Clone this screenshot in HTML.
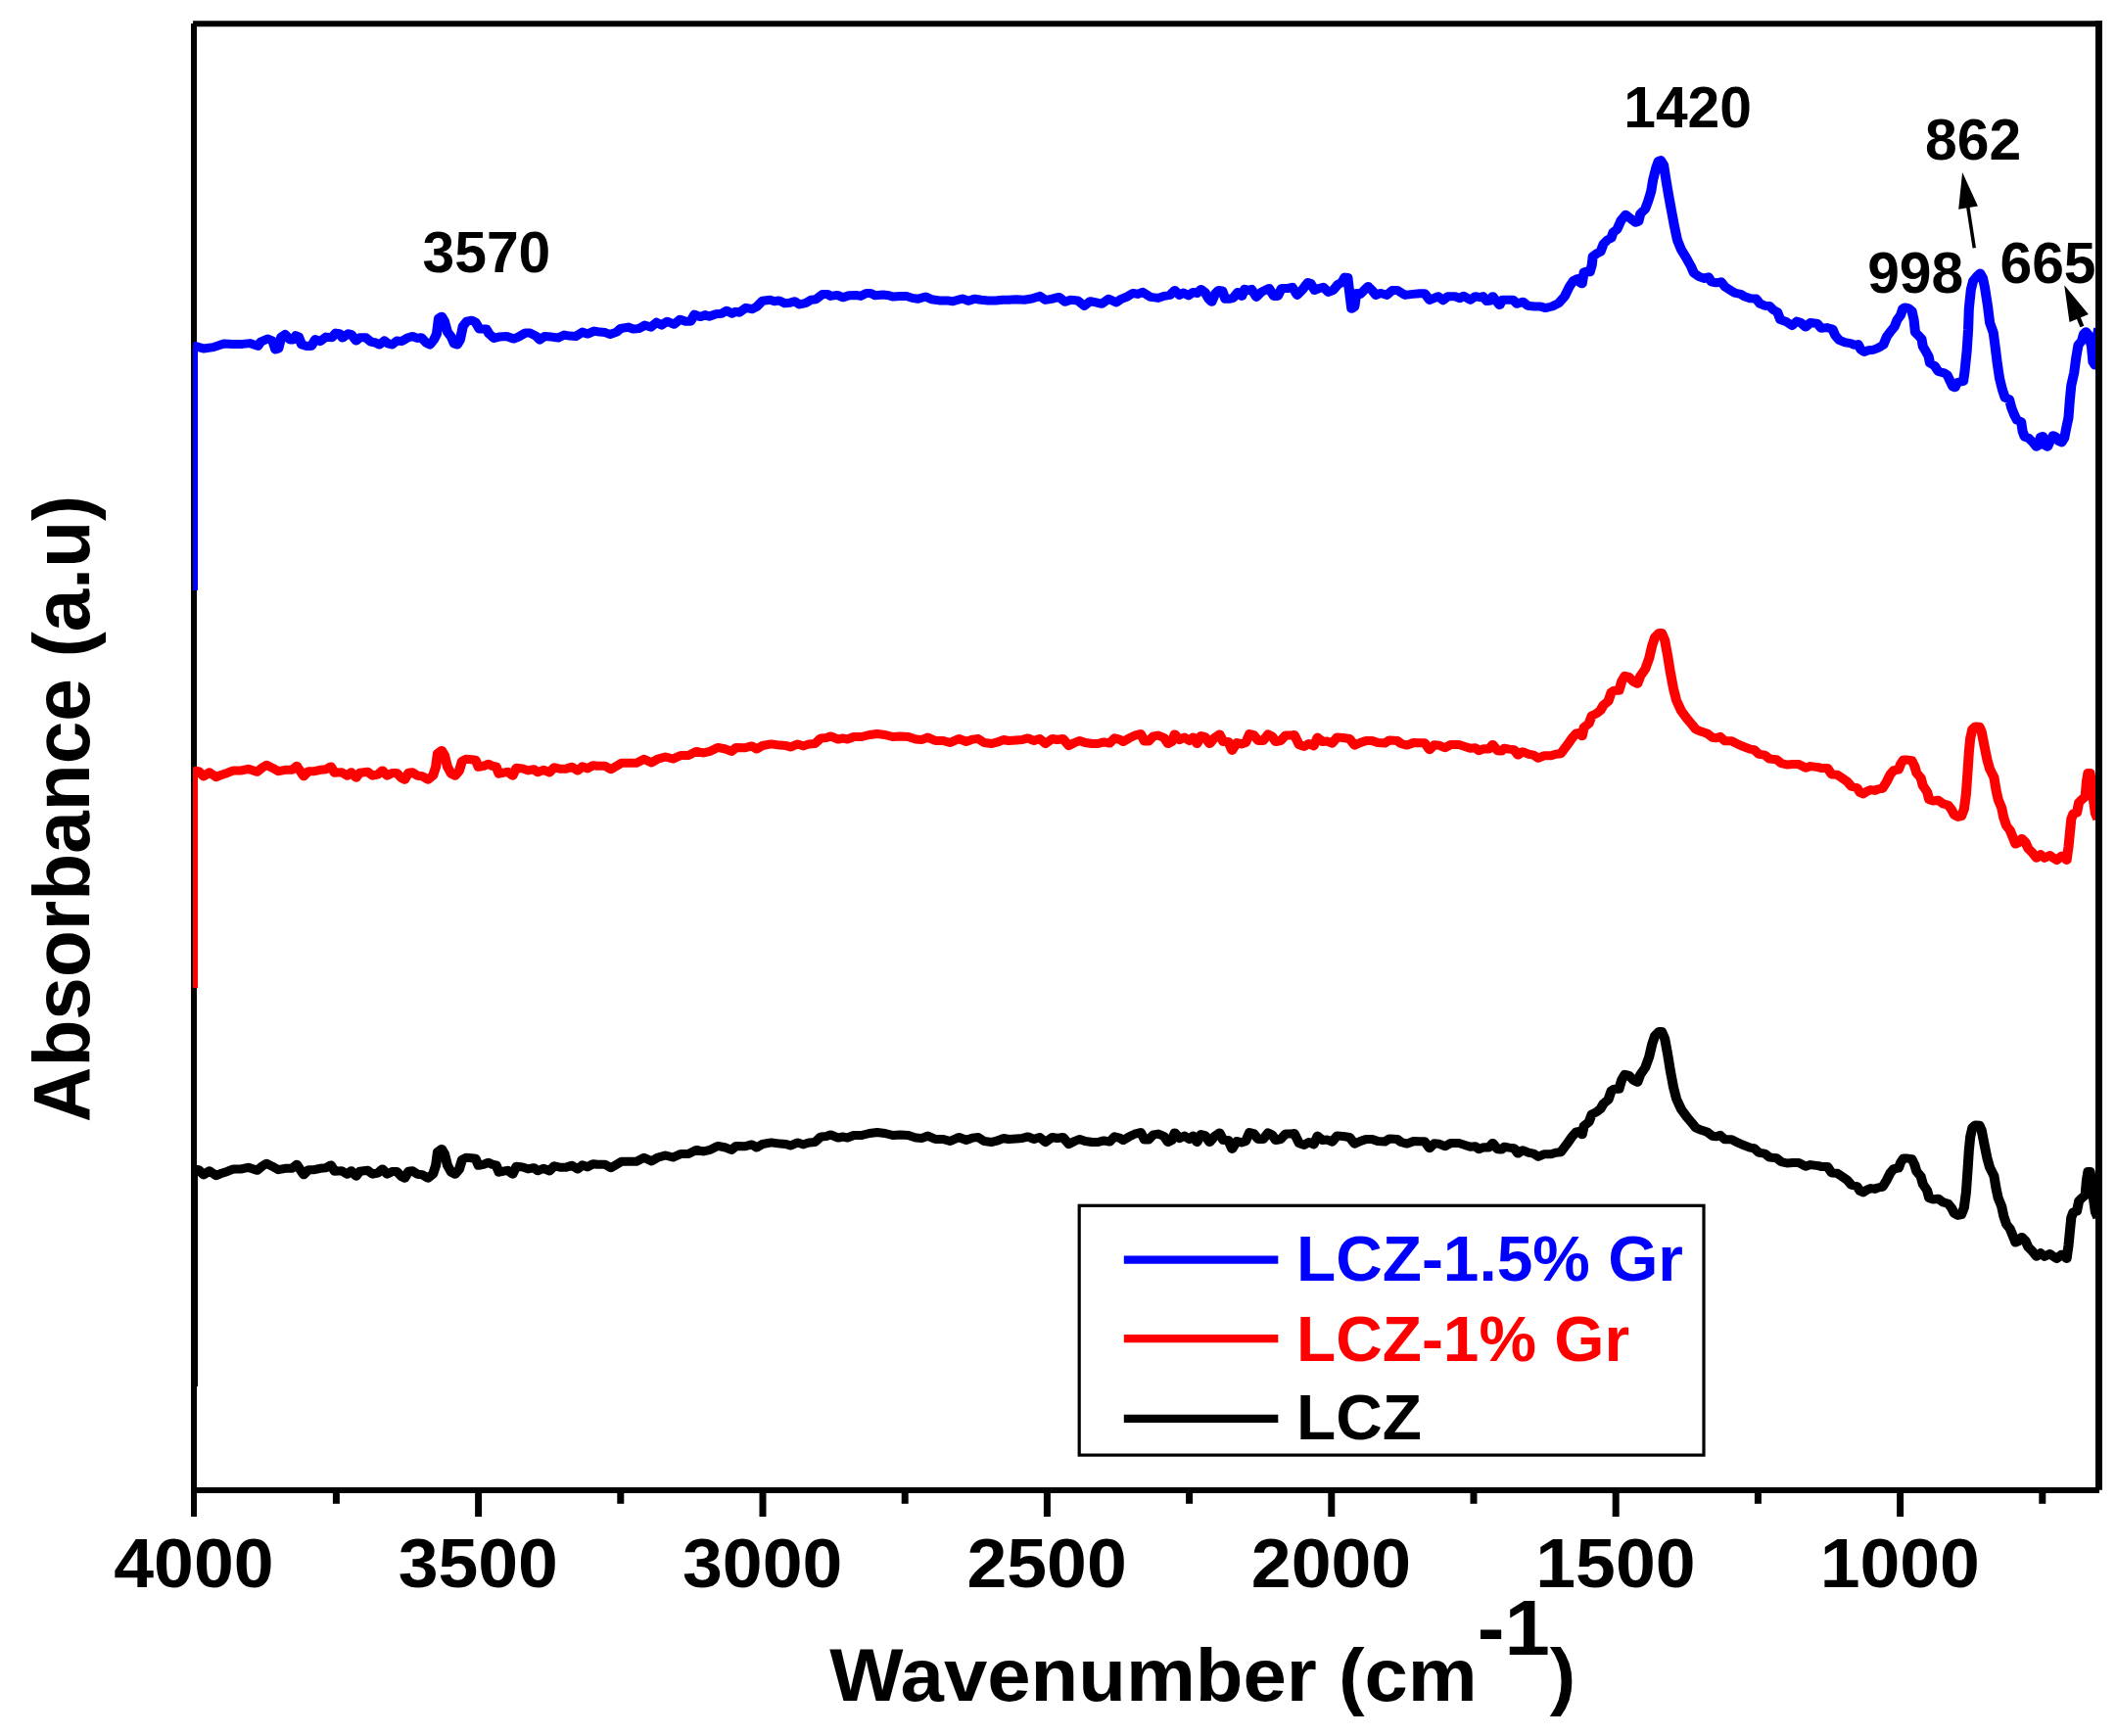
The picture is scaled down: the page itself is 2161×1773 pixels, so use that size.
<!DOCTYPE html>
<html><head><meta charset="utf-8"><title>FTIR</title><style>html,body{margin:0;padding:0;background:#fff}svg{display:block}</style></head><body>
<svg width="2161" height="1773" viewBox="0 0 2161 1773">
<rect width="2161" height="1773" fill="#fff"/>
<defs><clipPath id="cp"><rect x="197" y="20" width="1944" height="1503"/></clipPath></defs>
<g stroke="#000" stroke-width="6" fill="none" stroke-linecap="butt">
<path d="M198.0,23.9 L198.0,1549"/>
<path d="M195.0,1522.0 L2144.0,1522.0"/>
<path stroke-width="7" d="M488.6,1522.0 L488.6,1549"/>
<path stroke-width="7" d="M779.0,1522.0 L779.0,1549"/>
<path stroke-width="7" d="M1069.4,1522.0 L1069.4,1549"/>
<path stroke-width="7" d="M1359.8,1522.0 L1359.8,1549"/>
<path stroke-width="7" d="M1650.2,1522.0 L1650.2,1549"/>
<path stroke-width="7" d="M1940.6,1522.0 L1940.6,1549"/>
<path stroke-width="7" d="M343.4,1522.0 L343.4,1535.8"/>
<path stroke-width="7" d="M633.8,1522.0 L633.8,1535.8"/>
<path stroke-width="7" d="M924.2,1522.0 L924.2,1535.8"/>
<path stroke-width="7" d="M1214.6,1522.0 L1214.6,1535.8"/>
<path stroke-width="7" d="M1505.0,1522.0 L1505.0,1535.8"/>
<path stroke-width="7" d="M1795.4,1522.0 L1795.4,1535.8"/>
<path stroke-width="7" d="M2085.8,1522.0 L2085.8,1535.8"/>
</g>
<g clip-path="url(#cp)" fill="none" stroke-width="9.5" stroke-linejoin="round" stroke-linecap="butt">
<path stroke="#000" stroke-width="8.3" d="M197.9,1416 L197.9,1191.3"/>
<path stroke="#f00" stroke-width="8.3" d="M197.9,1009.0 L197.9,784.3"/>
<path stroke="#00f" stroke-width="8.3" d="M197.9,603.0 L197.9,350.4"/>
<g transform="scale(1.12,1)" stroke-width="9.0">
<path stroke="#000" d="M176.7,1194.3 L177.59,1194.3 L181.16,1194.7 L185.62,1199.8 L190.89,1195.8 L197.14,1200.6 L202.41,1198.2 L207.77,1196.2 L213.04,1193.9 L220.18,1193.9 L226.34,1192.3 L234.29,1195.3 L238.75,1191.3 L243.21,1188.3 L248.48,1191.3 L253.84,1194.7 L260.0,1193.3 L266.25,1193.3 L270.62,1189.3 L274.2,1195.3 L276.88,1199.8 L281.25,1194.7 L286.61,1194.7 L291.96,1193.3 L297.23,1192.7 L301.7,1189.9 L305.18,1196.2 L311.43,1195.8 L316.7,1199.2 L320.27,1195.8 L324.73,1201.2 L328.21,1196.2 L335.36,1195.3 L339.73,1199.2 L344.2,1198.2 L348.66,1193.9 L353.04,1199.2 L357.5,1196.6 L361.96,1196.6 L366.34,1201.8 L369.02,1203.2 L372.59,1196.2 L376.07,1195.8 L380.54,1199.2 L385.0,1199.8 L390.27,1203.2 L394.73,1199.2 L397.41,1190.3 L399.11,1176.4 L402.68,1173.4 L405.36,1178.4 L408.04,1190.3 L411.52,1197.2 L415.09,1199.2 L418.66,1194.3 L421.34,1184.3 L424.82,1182.3 L430.18,1182.7 L433.66,1183.3 L436.34,1190.3 L440.8,1189.3 L445.18,1187.3 L448.75,1189.3 L452.32,1189.9 L455.0,1197.2 L459.37,1196.2 L462.95,1195.3 L467.41,1199.2 L470.89,1191.3 L476.25,1191.9 L481.52,1193.9 L486.87,1192.7 L490.45,1195.8 L495.71,1193.3 L501.07,1195.8 L505.45,1190.7 L510.8,1192.3 L516.07,1192.3 L521.43,1190.3 L526.79,1193.9 L531.16,1189.9 L535.62,1191.9 L540.89,1188.7 L544.64,1189.3 L551.7,1189.3 L557.05,1192.7 L562.32,1189.3 L566.79,1186.3 L573.93,1186.3 L580.09,1186.3 L587.14,1182.3 L594.29,1185.9 L599.55,1182.3 L606.7,1180.0 L613.75,1182.0 L620.8,1178.4 L627.95,1178.4 L635.0,1174.4 L641.25,1176.0 L647.41,1174.4 L654.55,1170.4 L661.61,1172.0 L666.96,1174.4 L671.34,1170.4 L679.37,1170.8 L685.54,1168.9 L690.0,1172.0 L695.27,1168.5 L703.21,1166.9 L711.25,1168.1 L716.52,1168.5 L720.98,1170.0 L727.14,1166.9 L732.5,1168.9 L737.86,1166.9 L743.12,1166.5 L748.48,1160.9 L753.75,1160.5 L757.32,1158.9 L764.38,1162.1 L768.84,1160.9 L772.41,1162.1 L778.57,1159.5 L785.62,1159.5 L792.77,1157.5 L799.82,1156.5 L806.96,1157.5 L814.02,1159.5 L821.07,1158.9 L828.21,1159.5 L835.27,1162.1 L840.62,1162.5 L845.89,1160.1 L853.04,1163.5 L860.09,1163.5 L866.34,1165.5 L874.29,1161.5 L881.34,1164.5 L886.7,1162.1 L891.96,1161.5 L897.32,1165.5 L904.37,1166.5 L909.73,1164.9 L915.0,1162.5 L919.64,1163.5 L926.7,1162.9 L932.05,1162.5 L937.32,1160.9 L942.68,1163.5 L948.04,1161.5 L953.3,1166.5 L959.55,1161.5 L963.93,1162.5 L969.29,1161.5 L974.55,1168.5 L979.91,1165.5 L984.29,1163.5 L989.64,1165.5 L995.8,1166.5 L1001.16,1166.5 L1006.52,1164.9 L1011.79,1166.1 L1016.25,1160.9 L1020.62,1162.1 L1024.2,1164.5 L1029.55,1160.9 L1034.82,1158.1 L1040.18,1156.5 L1043.66,1164.1 L1047.23,1164.1 L1051.7,1158.9 L1056.07,1158.1 L1061.43,1160.5 L1065.0,1166.5 L1068.48,1164.5 L1071.16,1156.9 L1075.62,1162.5 L1080.0,1160.1 L1084.46,1163.5 L1088.04,1160.1 L1091.52,1166.5 L1095.09,1158.5 L1098.66,1159.5 L1103.04,1166.5 L1107.5,1160.5 L1111.96,1156.9 L1115.45,1164.5 L1119.91,1164.5 L1123.48,1173.4 L1127.86,1165.5 L1132.32,1166.9 L1135.89,1165.5 L1139.37,1156.5 L1142.95,1157.5 L1147.41,1163.5 L1151.79,1163.5 L1156.25,1156.9 L1159.82,1158.9 L1163.3,1164.5 L1167.77,1163.5 L1172.14,1158.1 L1176.61,1158.1 L1180.18,1157.5 L1184.55,1167.5 L1189.02,1169.4 L1193.48,1166.5 L1197.86,1168.9 L1201.43,1160.1 L1205.89,1164.5 L1210.27,1164.1 L1214.73,1166.1 L1219.11,1160.1 L1224.46,1160.5 L1230.62,1161.5 L1235.09,1168.1 L1240.45,1165.5 L1245.71,1163.5 L1251.07,1163.5 L1256.34,1165.5 L1262.59,1166.1 L1266.96,1162.9 L1274.11,1163.5 L1277.59,1166.5 L1282.95,1168.1 L1289.11,1165.5 L1294.64,1165.8 L1299.11,1165.8 L1303.48,1172.7 L1307.95,1167.8 L1312.32,1168.2 L1317.68,1170.8 L1323.04,1167.4 L1330.09,1167.4 L1335.45,1169.4 L1340.71,1171.3 L1345.18,1170.8 L1348.66,1173.7 L1353.12,1171.7 L1357.59,1172.1 L1361.07,1167.4 L1365.54,1173.7 L1369.11,1174.1 L1371.7,1171.3 L1376.16,1172.1 L1380.62,1172.7 L1384.11,1178.1 L1388.57,1174.7 L1393.93,1177.3 L1398.3,1178.1 L1402.77,1181.3 L1408.04,1178.7 L1414.29,1178.7 L1418.66,1177.3 L1423.12,1176.7 L1428.48,1168.8 L1432.86,1161.8 L1437.32,1155.9 L1440.0,1155.5 L1442.59,1158.8 L1444.38,1149.9 L1448.84,1145.9 L1451.52,1138.0 L1455.89,1135.6 L1459.46,1132.4 L1462.14,1127.1 L1466.52,1123.1 L1469.2,1114.2 L1471.87,1112.2 L1476.25,1112.2 L1478.93,1102.3 L1481.61,1097.3 L1485.18,1098.3 L1489.55,1103.3 L1493.12,1105.3 L1495.8,1097.3 L1500.18,1090.4 L1503.75,1079.4 L1506.43,1066.5 L1509.11,1057.6 L1512.59,1053.6 L1515.27,1053.6 L1517.95,1060.6 L1520.62,1076.5 L1523.21,1094.3 L1525.89,1110.2 L1528.57,1122.1 L1533.04,1133.0 L1538.3,1141.0 L1542.77,1146.9 L1546.34,1151.9 L1551.61,1154.3 L1556.96,1156.3 L1561.34,1160.2 L1564.91,1160.8 L1568.48,1159.4 L1572.86,1163.8 L1579.11,1163.8 L1585.27,1167.4 L1590.62,1169.8 L1595.89,1172.1 L1599.46,1172.7 L1603.93,1177.3 L1609.2,1178.1 L1613.66,1182.1 L1619.82,1182.7 L1624.29,1186.6 L1629.55,1188.0 L1634.91,1187.6 L1640.27,1187.6 L1646.43,1191.2 L1650.89,1189.6 L1657.95,1190.6 L1660.71,1191.6 L1666.43,1191.6 L1670.27,1198.0 L1675.36,1198.3 L1679.73,1201.6 L1684.2,1205.1 L1688.04,1210.1 L1693.12,1211.5 L1696.25,1216.5 L1698.84,1217.9 L1702.59,1215.1 L1705.8,1213.6 L1709.64,1214.4 L1712.77,1212.9 L1716.61,1212.2 L1720.45,1205.1 L1723.57,1198.0 L1726.79,1193.7 L1731.16,1193.0 L1733.12,1187.3 L1735.62,1183.1 L1739.46,1183.1 L1743.3,1183.8 L1745.8,1189.5 L1747.68,1196.6 L1751.52,1201.6 L1753.39,1209.4 L1757.23,1215.8 L1759.11,1223.6 L1762.32,1225.0 L1767.41,1224.3 L1771.87,1227.9 L1776.25,1229.3 L1779.46,1233.6 L1781.96,1239.2 L1785.18,1241.4 L1788.39,1240.7 L1790.89,1233.6 L1792.77,1217.9 L1794.11,1196.6 L1795.36,1175.2 L1796.61,1161.0 L1798.48,1151.8 L1801.07,1148.9 L1804.91,1149.3 L1806.79,1153.9 L1809.29,1168.1 L1811.87,1182.3 L1814.37,1192.3 L1818.21,1200.8 L1820.09,1213.6 L1822.05,1223.6 L1825.18,1232.1 L1827.05,1242.1 L1829.64,1250.6 L1832.77,1254.9 L1835.36,1262.0 L1837.86,1269.1 L1840.45,1267.7 L1843.57,1263.4 L1846.79,1267.0 L1849.29,1273.4 L1853.12,1277.7 L1856.96,1283.3 L1860.71,1279.8 L1864.55,1283.3 L1869.02,1280.5 L1871.52,1282.6 L1875.36,1285.5 L1879.82,1281.2 L1882.32,1281.9 L1884.46,1285.5 L1886.16,1272.0 L1887.41,1257.7 L1888.66,1243.5 L1890.62,1237.8 L1893.75,1237.1 L1895.71,1226.4 L1898.84,1222.9 L1901.43,1220.8 L1902.68,1205.1 L1903.93,1196.6 L1905.8,1196.6 L1907.77,1210.8 L1909.02,1225.0 L1910.62,1237.8 L1912.86,1243.5"/>
<path stroke="#f00" d="M176.7,787.3 L177.59,787.3 L181.16,787.7 L185.62,792.8 L190.89,788.8 L197.14,793.6 L202.41,791.2 L207.77,789.2 L213.04,786.9 L220.18,786.9 L226.34,785.3 L234.29,788.3 L238.75,784.3 L243.21,781.3 L248.48,784.3 L253.84,787.7 L260.0,786.3 L266.25,786.3 L270.62,782.3 L274.2,788.3 L276.88,792.8 L281.25,787.7 L286.61,787.7 L291.96,786.3 L297.23,785.7 L301.7,782.9 L305.18,789.2 L311.43,788.8 L316.7,792.2 L320.27,788.8 L324.73,794.2 L328.21,789.2 L335.36,788.3 L339.73,792.2 L344.2,791.2 L348.66,786.9 L353.04,792.2 L357.5,789.6 L361.96,789.6 L366.34,794.8 L369.02,796.2 L372.59,789.2 L376.07,788.8 L380.54,792.2 L385.0,792.8 L390.27,796.2 L394.73,792.2 L397.41,783.3 L399.11,769.4 L402.68,766.4 L405.36,771.4 L408.04,783.3 L411.52,790.2 L415.09,792.2 L418.66,787.3 L421.34,777.3 L424.82,775.3 L430.18,775.7 L433.66,776.3 L436.34,783.3 L440.8,782.3 L445.18,780.3 L448.75,782.3 L452.32,782.9 L455.0,790.2 L459.37,789.2 L462.95,788.3 L467.41,792.2 L470.89,784.3 L476.25,784.9 L481.52,786.9 L486.87,785.7 L490.45,788.8 L495.71,786.3 L501.07,788.8 L505.45,783.7 L510.8,785.3 L516.07,785.3 L521.43,783.3 L526.79,786.9 L531.16,782.9 L535.62,784.9 L540.89,781.7 L544.64,782.3 L551.7,782.3 L557.05,785.7 L562.32,782.3 L566.79,779.3 L573.93,779.3 L580.09,779.3 L587.14,775.3 L594.29,778.9 L599.55,775.3 L606.7,773.0 L613.75,775.0 L620.8,771.4 L627.95,771.4 L635.0,767.4 L641.25,769.0 L647.41,767.4 L654.55,763.4 L661.61,765.0 L666.96,767.4 L671.34,763.4 L679.37,763.8 L685.54,761.9 L690.0,765.0 L695.27,761.5 L703.21,759.9 L711.25,761.1 L716.52,761.5 L720.98,763.0 L727.14,759.9 L732.5,761.9 L737.86,759.9 L743.12,759.5 L748.48,753.9 L753.75,753.5 L757.32,751.9 L764.38,755.1 L768.84,753.9 L772.41,755.1 L778.57,752.5 L785.62,752.5 L792.77,750.5 L799.82,749.5 L806.96,750.5 L814.02,752.5 L821.07,751.9 L828.21,752.5 L835.27,755.1 L840.62,755.5 L845.89,753.1 L853.04,756.5 L860.09,756.5 L866.34,758.5 L874.29,754.5 L881.34,757.5 L886.7,755.1 L891.96,754.5 L897.32,758.5 L904.37,759.5 L909.73,757.9 L915.0,755.5 L919.64,756.5 L926.7,755.9 L932.05,755.5 L937.32,753.9 L942.68,756.5 L948.04,754.5 L953.3,759.5 L959.55,754.5 L963.93,755.5 L969.29,754.5 L974.55,761.5 L979.91,758.5 L984.29,756.5 L989.64,758.5 L995.8,759.5 L1001.16,759.5 L1006.52,757.9 L1011.79,759.1 L1016.25,753.9 L1020.62,755.1 L1024.2,757.5 L1029.55,753.9 L1034.82,751.1 L1040.18,749.5 L1043.66,757.1 L1047.23,757.1 L1051.7,751.9 L1056.07,751.1 L1061.43,753.5 L1065.0,759.5 L1068.48,757.5 L1071.16,749.9 L1075.62,755.5 L1080.0,753.1 L1084.46,756.5 L1088.04,753.1 L1091.52,759.5 L1095.09,751.5 L1098.66,752.5 L1103.04,759.5 L1107.5,753.5 L1111.96,749.9 L1115.45,757.5 L1119.91,757.5 L1123.48,766.4 L1127.86,758.5 L1132.32,759.9 L1135.89,758.5 L1139.37,749.5 L1142.95,750.5 L1147.41,756.5 L1151.79,756.5 L1156.25,749.9 L1159.82,751.9 L1163.3,757.5 L1167.77,756.5 L1172.14,751.1 L1176.61,751.1 L1180.18,750.5 L1184.55,760.5 L1189.02,762.4 L1193.48,759.5 L1197.86,761.9 L1201.43,753.1 L1205.89,757.5 L1210.27,757.1 L1214.73,759.1 L1219.11,753.1 L1224.46,753.5 L1230.62,754.5 L1235.09,761.1 L1240.45,758.5 L1245.71,756.5 L1251.07,756.5 L1256.34,758.5 L1262.59,759.1 L1266.96,755.9 L1274.11,756.5 L1277.59,759.5 L1282.95,761.1 L1289.11,758.5 L1294.64,758.8 L1299.11,758.8 L1303.48,765.7 L1307.95,760.8 L1312.32,761.2 L1317.68,763.8 L1323.04,760.4 L1330.09,760.4 L1335.45,762.4 L1340.71,764.3 L1345.18,763.8 L1348.66,766.7 L1353.12,764.7 L1357.59,765.1 L1361.07,760.4 L1365.54,766.7 L1369.11,767.1 L1371.7,764.3 L1376.16,765.1 L1380.62,765.7 L1384.11,771.1 L1388.57,767.7 L1393.93,770.3 L1398.3,771.1 L1402.77,774.3 L1408.04,771.7 L1414.29,771.7 L1418.66,770.3 L1423.12,769.7 L1428.48,761.8 L1432.86,754.8 L1437.32,748.9 L1440.0,748.5 L1442.59,751.8 L1444.38,742.9 L1448.84,738.9 L1451.52,731.0 L1455.89,728.6 L1459.46,725.4 L1462.14,720.1 L1466.52,716.1 L1469.2,707.2 L1471.87,705.2 L1476.25,705.2 L1478.93,695.3 L1481.61,690.3 L1485.18,691.3 L1489.55,696.3 L1493.12,698.3 L1495.8,690.3 L1500.18,683.4 L1503.75,672.4 L1506.43,659.5 L1509.11,650.6 L1512.59,646.6 L1515.27,646.6 L1517.95,653.6 L1520.62,669.5 L1523.21,687.3 L1525.89,703.2 L1528.57,715.1 L1533.04,726.0 L1538.3,734.0 L1542.77,739.9 L1546.34,744.9 L1551.61,747.3 L1556.96,749.3 L1561.34,753.2 L1564.91,753.8 L1568.48,752.4 L1572.86,756.8 L1579.11,756.8 L1585.27,760.4 L1590.62,762.8 L1595.89,765.1 L1599.46,765.7 L1603.93,770.3 L1609.2,771.1 L1613.66,775.1 L1619.82,775.7 L1624.29,779.6 L1629.55,781.0 L1634.91,780.6 L1640.27,780.6 L1646.43,784.2 L1650.89,782.6 L1657.95,783.6 L1660.71,784.6 L1666.43,784.6 L1670.27,791.0 L1675.36,791.3 L1679.73,794.6 L1684.2,798.1 L1688.04,803.1 L1693.12,804.5 L1696.25,809.5 L1698.84,810.9 L1702.59,808.1 L1705.8,806.6 L1709.64,807.4 L1712.77,805.9 L1716.61,805.2 L1720.45,798.1 L1723.57,791.0 L1726.79,786.7 L1731.16,786.0 L1733.12,780.3 L1735.62,776.1 L1739.46,776.1 L1743.3,776.8 L1745.8,782.5 L1747.68,789.6 L1751.52,794.6 L1753.39,802.4 L1757.23,808.8 L1759.11,816.6 L1762.32,818.0 L1767.41,817.3 L1771.87,820.9 L1776.25,822.3 L1779.46,826.6 L1781.96,832.2 L1785.18,834.4 L1788.39,833.7 L1790.89,826.6 L1792.77,810.9 L1794.11,789.6 L1795.36,768.2 L1796.61,754.0 L1798.48,744.8 L1801.07,741.9 L1804.91,742.3 L1806.79,746.9 L1809.29,761.1 L1811.87,775.3 L1814.37,785.3 L1818.21,793.8 L1820.09,806.6 L1822.05,816.6 L1825.18,825.1 L1827.05,835.1 L1829.64,843.6 L1832.77,847.9 L1835.36,855.0 L1837.86,862.1 L1840.45,860.7 L1843.57,856.4 L1846.79,860.0 L1849.29,866.4 L1853.12,870.7 L1856.96,876.3 L1860.71,872.8 L1864.55,876.3 L1869.02,873.5 L1871.52,875.6 L1875.36,878.5 L1879.82,874.2 L1882.32,874.9 L1884.46,878.5 L1886.16,865.0 L1887.41,850.7 L1888.66,836.5 L1890.62,830.8 L1893.75,830.1 L1895.71,819.4 L1898.84,815.9 L1901.43,813.8 L1902.68,798.1 L1903.93,789.6 L1905.8,789.6 L1907.77,803.8 L1909.02,818.0 L1910.62,830.8 L1912.86,836.5"/>
<path stroke="#00f" d="M176.7,353.4 L177.59,353.4 L185.62,356.0 L194.46,354.6 L204.2,351.0 L212.14,351.6 L221.07,351.4 L228.12,350.6 L235.18,353.4 L237.86,349.0 L244.11,346.0 L248.48,348.0 L251.16,357.0 L253.84,356.0 L256.52,344.1 L260.0,341.5 L264.46,347.0 L267.14,347.0 L269.73,342.7 L272.41,344.1 L275.09,352.0 L279.55,353.4 L283.93,353.4 L287.5,346.6 L291.96,348.6 L297.23,344.1 L302.59,344.7 L306.07,340.1 L309.64,340.7 L312.32,345.0 L317.59,340.7 L320.27,341.5 L324.73,348.0 L328.21,344.7 L333.57,344.7 L338.04,349.0 L342.41,350.0 L345.98,352.0 L350.45,348.0 L353.93,351.0 L357.5,352.0 L361.96,348.0 L366.34,348.6 L371.7,345.0 L376.07,343.5 L380.54,345.4 L384.11,344.7 L388.48,350.0 L392.05,352.0 L395.62,347.0 L398.21,341.1 L400.0,325.2 L402.68,323.2 L405.36,328.2 L408.04,339.1 L411.52,344.1 L414.2,351.0 L416.87,352.0 L419.55,347.0 L422.14,333.1 L425.71,328.2 L430.18,327.2 L433.66,329.2 L437.23,336.1 L443.48,336.1 L446.07,341.1 L450.54,345.4 L455.0,344.1 L462.05,343.5 L468.3,346.0 L472.68,344.1 L478.93,340.1 L483.3,340.1 L488.66,343.1 L492.14,347.0 L496.61,343.5 L502.86,344.1 L509.02,345.0 L514.38,342.1 L519.64,343.1 L525.0,343.5 L531.16,339.1 L535.62,341.1 L541.79,338.1 L544.64,338.7 L551.7,339.5 L556.16,341.5 L562.32,339.1 L565.89,335.5 L573.04,334.1 L577.41,336.1 L582.77,335.5 L588.04,332.1 L593.39,334.1 L598.66,329.2 L603.12,332.1 L608.48,328.2 L614.64,331.2 L620.0,326.2 L625.27,328.2 L629.73,328.2 L633.21,321.2 L638.57,323.6 L643.04,321.6 L646.52,323.2 L652.77,320.8 L658.04,320.2 L662.5,317.3 L667.77,320.2 L670.45,318.3 L674.02,319.2 L680.18,314.3 L685.54,315.7 L690.0,313.3 L695.27,307.3 L702.41,306.3 L705.89,307.7 L710.36,306.9 L715.62,309.7 L720.09,309.3 L724.55,307.7 L728.93,310.9 L734.29,309.7 L739.55,306.3 L744.02,305.7 L750.18,300.4 L754.64,300.4 L757.32,302.4 L763.48,301.4 L768.84,303.8 L774.11,301.8 L780.36,301.4 L784.82,302.4 L790.09,299.4 L793.66,299.4 L798.04,301.8 L805.18,301.0 L810.45,301.8 L814.02,303.0 L821.07,302.4 L826.43,302.4 L831.79,304.4 L837.05,305.3 L844.11,303.0 L849.46,305.7 L856.52,306.9 L863.66,306.9 L868.93,307.7 L873.39,306.3 L877.86,305.0 L883.12,307.3 L888.48,305.3 L894.64,306.3 L900.89,306.9 L907.95,306.9 L914.11,306.3 L919.64,306.3 L926.7,305.7 L933.84,306.3 L940.89,305.0 L948.04,302.4 L953.3,306.3 L958.66,305.3 L965.71,303.4 L971.07,308.3 L976.34,306.3 L982.59,306.9 L988.75,312.3 L994.11,307.7 L999.37,308.9 L1004.73,310.3 L1010.89,305.3 L1018.04,308.9 L1022.41,305.3 L1027.77,303.0 L1033.04,299.4 L1037.5,300.4 L1041.96,298.4 L1049.02,303.4 L1056.07,304.4 L1061.43,302.4 L1066.7,301.4 L1071.16,296.4 L1075.62,301.4 L1079.11,299.0 L1083.57,301.8 L1088.04,298.4 L1091.52,299.4 L1095.09,295.4 L1098.66,298.4 L1102.14,305.3 L1104.82,308.3 L1108.39,299.4 L1111.07,296.4 L1114.55,297.0 L1117.23,305.3 L1120.8,305.3 L1124.37,304.4 L1128.75,298.4 L1132.32,302.4 L1135.0,295.4 L1138.48,296.4 L1141.16,295.4 L1145.62,303.4 L1150.0,298.4 L1153.57,296.4 L1157.14,294.4 L1161.52,302.4 L1165.09,302.4 L1168.66,294.4 L1174.82,294.4 L1178.39,293.4 L1182.86,301.4 L1187.23,296.4 L1192.59,288.5 L1195.18,289.5 L1198.75,296.4 L1203.21,294.4 L1206.79,293.4 L1211.16,298.4 L1215.62,296.4 L1220.0,290.5 L1223.57,288.5 L1226.25,283.1 L1228.93,283.5 L1230.62,299.4 L1232.41,315.3 L1235.09,313.3 L1236.87,299.4 L1240.45,300.4 L1243.93,296.4 L1247.5,292.4 L1251.07,296.4 L1254.55,301.4 L1259.02,299.4 L1264.37,301.4 L1269.64,296.4 L1274.11,296.4 L1281.16,301.4 L1288.3,300.4 L1294.64,299.7 L1299.11,299.7 L1303.48,306.3 L1307.95,304.3 L1311.52,302.7 L1315.89,306.7 L1320.36,302.7 L1326.52,302.7 L1330.98,304.7 L1334.55,302.3 L1340.71,306.3 L1345.18,302.7 L1349.55,303.7 L1352.23,302.7 L1355.8,307.6 L1359.29,307.1 L1361.07,302.7 L1364.64,307.6 L1367.32,311.6 L1370.0,306.3 L1374.37,306.3 L1379.73,306.3 L1383.21,310.2 L1388.57,308.2 L1393.04,312.2 L1399.2,313.0 L1404.55,313.0 L1408.93,314.6 L1415.18,313.0 L1421.34,309.6 L1426.7,302.7 L1431.07,292.8 L1434.64,286.8 L1438.21,284.8 L1440.89,288.8 L1442.59,289.8 L1444.38,277.9 L1447.05,276.9 L1449.73,277.9 L1451.52,270.9 L1452.41,262.0 L1455.89,259.0 L1459.46,257.0 L1462.14,249.1 L1465.62,245.1 L1469.2,243.1 L1470.98,237.2 L1474.55,234.2 L1478.04,225.3 L1482.5,219.3 L1486.96,223.3 L1491.34,227.3 L1494.02,226.3 L1495.8,218.3 L1500.18,213.4 L1502.86,205.4 L1505.54,195.5 L1507.32,183.6 L1510.0,171.7 L1512.23,164.7 L1514.37,163.7 L1517.05,168.7 L1518.84,181.6 L1521.52,199.5 L1524.11,215.3 L1526.79,231.2 L1529.46,245.1 L1533.04,255.0 L1537.41,263.0 L1541.88,271.9 L1544.55,278.9 L1549.82,282.8 L1554.29,284.4 L1557.86,282.8 L1560.45,287.8 L1564.91,288.8 L1569.38,287.8 L1572.86,292.8 L1578.21,296.7 L1581.79,299.1 L1587.05,300.3 L1590.62,302.7 L1595.89,304.7 L1601.25,305.1 L1604.82,310.2 L1609.2,312.2 L1613.66,312.6 L1617.14,316.6 L1620.71,318.6 L1623.39,326.5 L1628.66,328.5 L1634.02,332.5 L1638.48,328.1 L1641.96,329.5 L1646.43,334.0 L1650.89,329.5 L1657.05,330.5 L1660.71,335.3 L1665.8,334.6 L1670.89,336.0 L1673.39,342.4 L1677.23,347.4 L1682.32,349.8 L1687.41,350.6 L1691.16,352.3 L1694.37,351.6 L1696.87,357.3 L1700.09,359.4 L1703.93,357.7 L1708.3,357.3 L1712.77,355.2 L1717.23,352.3 L1720.45,343.8 L1724.2,338.1 L1727.41,333.8 L1729.91,326.7 L1733.12,321.8 L1735.0,315.3 L1736.87,313.9 L1740.09,314.6 L1743.3,317.5 L1745.18,326.7 L1746.43,339.5 L1749.64,343.1 L1752.14,345.9 L1753.39,353.8 L1755.98,358.7 L1758.48,363.7 L1759.82,370.8 L1764.2,373.7 L1767.41,379.4 L1772.5,380.8 L1775.62,382.9 L1778.21,389.3 L1780.71,395.0 L1782.68,395.7 L1784.55,390.7 L1787.68,390.0 L1790.27,389.3 L1791.52,379.4 L1793.48,358.0 L1794.73,336.7 L1795.36,315.3 L1797.23,295.4 L1799.2,286.9 L1802.32,282.6 L1805.54,279.1 L1808.04,284.1 L1809.91,294.0 L1812.5,312.5 L1814.37,329.6 L1817.59,339.5 L1819.46,355.2 L1821.34,372.2 L1823.3,386.5 L1825.8,397.9 L1828.39,406.4 L1832.14,407.8 L1834.11,416.3 L1836.61,423.5 L1839.2,429.1 L1842.95,430.6 L1844.29,440.5 L1846.16,446.2 L1850.0,447.6 L1853.75,451.9 L1856.96,456.2 L1858.84,454.8 L1860.71,446.2 L1862.68,445.5 L1864.55,454.8 L1867.14,456.2 L1869.64,449.8 L1872.14,444.8 L1874.73,446.2 L1877.23,450.5 L1879.82,451.9 L1882.32,447.6 L1884.29,436.3 L1886.16,426.3 L1887.41,407.8 L1888.66,393.6 L1891.25,380.8 L1893.12,365.1 L1895.09,352.3 L1898.21,348.1 L1900.09,341.0 L1902.05,338.8 L1904.55,342.4 L1907.14,353.8 L1908.39,369.4 L1910.27,373.0 L1911.52,350.9 L1913.48,335.3"/>
</g>
</g>
<g stroke="#000" stroke-width="6" fill="none">
<path d="M197.1,24.2 L2147.0,24.2"/>
<path stroke-width="7" d="M2143.5,21.2 L2143.5,1521.8"/>
</g>
<text transform="translate(197.9,1621.2) scale(1.04,1)" font-size="70.6" fill="#000" text-anchor="middle" font-family="Liberation Sans, Arial, Helvetica, sans-serif" font-weight="bold" >4000</text>
<text transform="translate(488.3,1621.2) scale(1.04,1)" font-size="70.6" fill="#000" text-anchor="middle" font-family="Liberation Sans, Arial, Helvetica, sans-serif" font-weight="bold" >3500</text>
<text transform="translate(778.7,1621.2) scale(1.04,1)" font-size="70.6" fill="#000" text-anchor="middle" font-family="Liberation Sans, Arial, Helvetica, sans-serif" font-weight="bold" >3000</text>
<text transform="translate(1069.1,1621.2) scale(1.04,1)" font-size="70.6" fill="#000" text-anchor="middle" font-family="Liberation Sans, Arial, Helvetica, sans-serif" font-weight="bold" >2500</text>
<text transform="translate(1359.5,1621.2) scale(1.04,1)" font-size="70.6" fill="#000" text-anchor="middle" font-family="Liberation Sans, Arial, Helvetica, sans-serif" font-weight="bold" >2000</text>
<text transform="translate(1649.9,1621.2) scale(1.04,1)" font-size="70.6" fill="#000" text-anchor="middle" font-family="Liberation Sans, Arial, Helvetica, sans-serif" font-weight="bold" >1500</text>
<text transform="translate(1940.3,1621.2) scale(1.04,1)" font-size="70.6" fill="#000" text-anchor="middle" font-family="Liberation Sans, Arial, Helvetica, sans-serif" font-weight="bold" >1000</text>
<text transform="translate(847.3,1737) scale(1.042,1)" font-size="76.5" font-family="Liberation Sans, Arial, Helvetica, sans-serif" font-weight="bold">Wavenumber (cm<tspan dy="-46.9" font-size="80">-1</tspan><tspan dy="46.9">)</tspan></text>
<text transform="translate(90.8,826) scale(1.047,1) rotate(-90)" font-size="78.4" text-anchor="middle" font-family="Liberation Sans, Arial, Helvetica, sans-serif" font-weight="bold">Absorbance (a.u)</text>
<rect x="1102.2" y="1231.3" width="637.8" height="254.79999999999995" fill="#fff" stroke="#000" stroke-width="3.2"/>
<path d="M1147.8,1286.7 L1305.3,1286.7" stroke="#00f" stroke-width="8.3"/>
<path d="M1147.8,1367.1 L1305.3,1367.1" stroke="#f00" stroke-width="8.3"/>
<path d="M1147.8,1448.8 L1305.3,1448.8" stroke="#000" stroke-width="8.3"/>
<text transform="translate(1324,1308.1) scale(1.022,1)" font-size="64.4" fill="#00f" text-anchor="start" font-family="Liberation Sans, Arial, Helvetica, sans-serif" font-weight="bold" >LCZ-1.5% Gr</text>
<text transform="translate(1324,1389.8) scale(1.022,1)" font-size="64.4" fill="#f00" text-anchor="start" font-family="Liberation Sans, Arial, Helvetica, sans-serif" font-weight="bold" >LCZ-1% Gr</text>
<text transform="translate(1324,1470.2) scale(1.022,1)" font-size="64.4" fill="#000" text-anchor="start" font-family="Liberation Sans, Arial, Helvetica, sans-serif" font-weight="bold" >LCZ</text>
<text transform="translate(496.9,277.8) scale(1.005,1)" font-size="58.5" fill="#000" text-anchor="middle" font-family="Liberation Sans, Arial, Helvetica, sans-serif" font-weight="bold" >3570</text>
<text transform="translate(1723.6,130.4) scale(1.005,1)" font-size="58.5" fill="#000" text-anchor="middle" font-family="Liberation Sans, Arial, Helvetica, sans-serif" font-weight="bold" >1420</text>
<text transform="translate(2015.1,163.1) scale(1.005,1)" font-size="58.5" fill="#000" text-anchor="middle" font-family="Liberation Sans, Arial, Helvetica, sans-serif" font-weight="bold" >862</text>
<text transform="translate(1956.2,299.2) scale(1.005,1)" font-size="58.5" fill="#000" text-anchor="middle" font-family="Liberation Sans, Arial, Helvetica, sans-serif" font-weight="bold" >998</text>
<text transform="translate(2091.5,289.2) scale(1.005,1)" font-size="58.5" fill="#000" text-anchor="middle" font-family="Liberation Sans, Arial, Helvetica, sans-serif" font-weight="bold" >665</text>
<path d="M2016.3,253.3 L2008,200" stroke="#000" stroke-width="3.5" fill="none"/>
<polygon points="2004.1,176.0 2000.2,213.7 2019.9,210.6" fill="#000"/>
<path d="M2126.4,333.5 L2120,318" stroke="#000" stroke-width="4.3" fill="none"/>
<polygon points="2108.2,291.2 2113.5,328.9 2132.9,321.0" fill="#000"/>
</svg>
</body></html>
